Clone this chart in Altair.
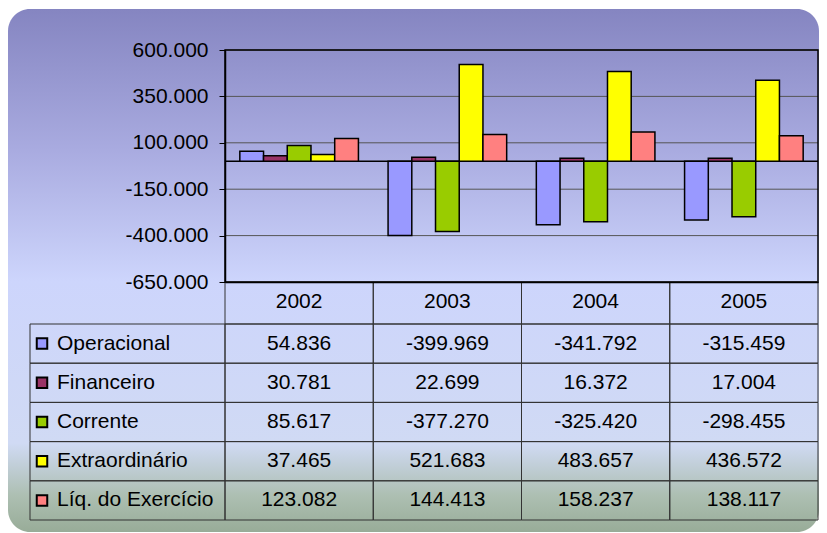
import altair as alt
import pandas as pd

# ---------------- data ----------------
years = ["2002", "2003", "2004", "2005"]
series = ["Operacional", "Financeiro", "Corrente", "Extraordinário", "Líq. do Exercício"]
operacional = [54836, -399969, -341792, -315459]
financeiro = [30781, 22699, 16372, 17004]
corrente = [85617, -377270, -325420, -298455]
extraordinario = [37465, 521683, 483657, 436572]
liquido = [123082, 144413, 158237, 138117]
colors = ["#9999FF", "#993366", "#99CC00", "#FFFF00", "#FF8080"]
y_ticks = [-650000, -400000, -150000, 100000, 350000, 600000]

rows = []
for s, vals in zip(series, [operacional, financeiro, corrente, extraordinario, liquido]):
    for yr, v in zip(years, vals):
        rows.append({"year": yr, "series": s, "value": v})
df = pd.DataFrame(rows)
legend_df = pd.DataFrame({"series": series})
year_df = pd.DataFrame({"year": years})
tick_df = pd.DataFrame({"t": y_ticks})
one_df = pd.DataFrame({"a": [0]})

FONT = "Liberation Sans"
FS = 21
LINE = "#333333"
W, H = 593, 232

gradient = {
    "gradient": "linear",
    "x1": 0, "y1": 0, "x2": 0, "y2": 1,
    "stops": [
        {"offset": 0.0, "color": "#8585C1"},
        {"offset": 0.27, "color": "#A9ABE0"},
        {"offset": 0.52, "color": "#CDD5FC"},
        {"offset": 0.83, "color": "#D0DAF4"},
        {"offset": 0.93, "color": "#ADBFB2"},
        {"offset": 1.0, "color": "#98AC98"},
    ],
}

x_enc = alt.X(
    "year:N", sort=years,
    scale=alt.Scale(domain=years, paddingInner=0, paddingOuter=0),
    axis=alt.Axis(title=None, ticks=False, labelPadding=8, labelAngle=0,
                  domainColor="black", domainWidth=1.5, grid=False, zindex=1),
)
color_enc = alt.Color("series:N", scale=alt.Scale(domain=series, range=colors), legend=None)
y_scale = alt.Scale(domain=[-650000, 600000], nice=False, zero=False)
y_tab = alt.Y("series:N", sort=series,
              scale=alt.Scale(domain=series, range=[274, 470], paddingInner=0, paddingOuter=0),
              axis=None)

# ---------------- background ----------------
bg = alt.Chart(one_df).mark_rect(cornerRadius=22, fill=gradient).encode(
    x=alt.value(-217), x2=alt.value(W + 1), y=alt.value(-41), y2=alt.value(482)
)

# ---------------- bar chart ----------------
grid = alt.Chart(tick_df).mark_rule(color="#555555", strokeWidth=1).encode(
    y=alt.Y("t:Q", scale=y_scale,
            axis=alt.Axis(values=y_ticks, format=",d", title=None, tickSize=6, labelPadding=11,
                          grid=False, domainColor="black", tickColor="black", domainWidth=1.5,
                          tickWidth=1, zindex=1))
)
zero = alt.Chart(one_df).mark_rule(color="black", strokeWidth=1.5).encode(y=alt.datum(0))
bars = alt.Chart(df).mark_bar(stroke="black", strokeWidth=1.5).encode(
    x=x_enc,
    xOffset=alt.XOffset("series:N", sort=series,
                        scale=alt.Scale(domain=series, paddingInner=0, paddingOuter=0.625)),
    y=alt.Y("value:Q", scale=y_scale),
    color=color_enc,
)
border = alt.Chart(one_df).mark_rect(fill="transparent", stroke="black", strokeWidth=1.5).encode(
    x=alt.value(0), x2=alt.value(W), y=alt.value(0), y2=alt.value(H)
)
chart_part = alt.layer(grid, zero, bars, border)

# ---------------- data table ----------------
header_cells = alt.Chart(year_df).mark_rect(fill="transparent", stroke=LINE, strokeWidth=1).encode(
    x=x_enc, y=alt.value(H), y2=alt.value(274)
)
cells = alt.Chart(df).mark_rect(fill="transparent", stroke=LINE, strokeWidth=1).encode(
    x=x_enc, y=y_tab
)
legend_cells = alt.Chart(legend_df).mark_rect(fill="transparent", stroke=LINE, strokeWidth=1).encode(
    x=alt.value(-195), x2=alt.value(0), y=y_tab
)
values_text = alt.Chart(df).mark_text(font=FONT, fontSize=FS, color="black").encode(
    x=x_enc, y=y_tab, text=alt.Text("value:Q", format=",d")
)
legend_sq = alt.Chart(legend_df).mark_square(size=110, filled=True, opacity=1,
                                             stroke="black", strokeWidth=2).encode(
    x=alt.value(-183), y=y_tab, color=color_enc
)
legend_txt = alt.Chart(legend_df).mark_text(font=FONT, fontSize=FS, color="black", align="left").encode(
    x=alt.value(-168), y=y_tab, text="series:N"
)
table_part = alt.layer(header_cells, cells, legend_cells, values_text, legend_sq, legend_txt)

chart = (
    alt.layer(bg, chart_part, table_part)
    .resolve_scale(y="independent")
    .properties(
        width=W, height=H,
        autosize=alt.AutoSizeParams(type="none"),
        padding={"left": 217, "top": 42, "right": 1, "bottom": 251},
    )
    .configure(locale={"number": {"decimal": ",", "thousands": ".", "grouping": [3],
                                  "currency": ["", ""], "minus": "-"}})
    .configure_view(strokeWidth=0)
    .configure_axis(labelFont=FONT, labelFontSize=FS, labelColor="black")
)

chart.save("out.html", embed_options={"renderer": "svg", "actions": False})
